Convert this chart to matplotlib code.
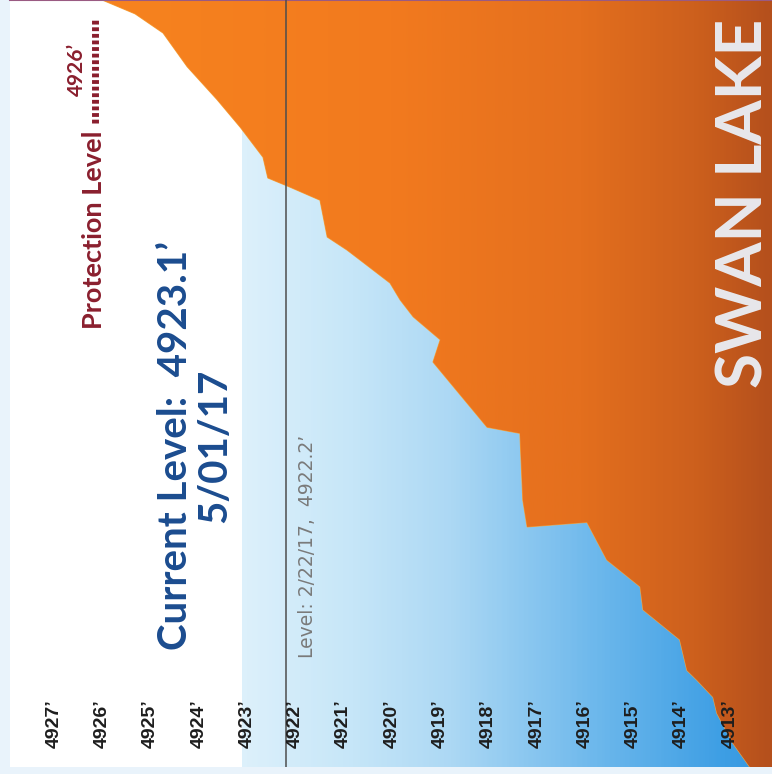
import numpy as np
import matplotlib
matplotlib.use('Agg')
import matplotlib.pyplot as plt
from matplotlib.colors import LinearSegmentedColormap
from matplotlib.patches import PathPatch

# scan is turned 90 deg, so level runs along x (high -> low) and time runs bottom -> top
time_pos = [100, 98.2, 95.7, 91.3, 87.0, 83.4, 79.5, 76.8, 75.6, 73.9, 69.1,
            67.4, 66.1, 63.1, 60.9, 58.7, 55.7, 52.8, 44.3, 43.5, 34.8, 31.3,
            31.9, 27.0, 23.5, 20.5, 16.6, 12.6, 11.3, 9.1, 7.0, 3.1, 0]
curve_level = [4926.0, 4925.32, 4924.74, 4924.24, 4923.62, 4923.14, 4922.67,
               4922.57, 4922.11, 4921.49, 4921.34, 4920.93, 4920.66, 4920.04,
               4919.83, 4919.56, 4919.00, 4919.15, 4918.03, 4917.35, 4917.29,
               4917.20, 4915.96, 4915.55, 4914.86, 4914.80, 4914.04, 4913.89,
               4913.68, 4913.35, 4913.27, 4912.94, 4912.59]

tick_levels = list(range(4913, 4928))
tick_labels = [f"{v}’" for v in tick_levels]

current_level = 4923.1
current_date = "5/01/17"
ref_level = 4922.2
ref_date = "2/22/17"
protection_level = 4926

x_hi, x_lo = 4927.91, 4912.13

fig = plt.figure(figsize=(7.72, 7.74), dpi=100)
fig.patch.set_facecolor('#e9f3fb')
ax = fig.add_axes([10 / 772, 7 / 774, 762 / 772, 767 / 774])
ax.set_facecolor('white')
ax.set_xlim(x_hi, x_lo)
ax.set_ylim(0, 100)
ax.set_xticks([])
ax.set_yticks([])
for s in ['left', 'right', 'bottom']:
    ax.spines[s].set_visible(False)
ax.spines['top'].set_color('#9a5a82')
ax.spines['top'].set_linewidth(1.5)

grad = np.linspace(0, 1, 400).reshape(1, -1)

# water (blue) up to current level
blue_cmap = LinearSegmentedColormap.from_list('water', [
    (0.0, '#e4f3fc'), (0.31, '#dcf0fb'), (0.45, '#c6e6f8'), (0.58, '#acd8f4'),
    (0.77, '#6db8ec'), (0.94, '#3d9ee4'), (1.0, '#3597e0')])
water = ax.fill_betweenx([0, 100], current_level, x_lo, facecolor='none', edgecolor='none')
water_patch = PathPatch(water.get_paths()[0], transform=ax.transData,
                        facecolor='none', edgecolor='none')
ax.add_patch(water_patch)
im_b = ax.imshow(grad, extent=(x_hi, x_lo, 0, 100), aspect='auto',
                 cmap=blue_cmap, zorder=1)
im_b.set_clip_path(water_patch)

# orange area beyond the curve
orange_cmap = LinearSegmentedColormap.from_list('curve', [
    (0.0, '#f8861f'), (0.5, '#f27a1e'), (0.75, '#e46f1e'), (0.9, '#cd601d'),
    (1.0, '#b5501c')])
area = ax.fill_betweenx(time_pos, curve_level, x_lo, facecolor='none', edgecolor='none')
area_patch = PathPatch(area.get_paths()[0], transform=ax.transData,
                       facecolor='none', edgecolor='#f4a640', lw=0.8, zorder=2)
ax.add_patch(area_patch)
im_o = ax.imshow(grad, extent=(x_hi, x_lo, 0, 100), aspect='auto',
                 cmap=orange_cmap, zorder=2)
im_o.set_clip_path(area_patch)

# reference line
ax.axvline(ref_level, color='#4d4d4d', lw=1.1, zorder=4)
ax.text(0.391, 0.287, f"Level: {ref_date},  {ref_level}’", transform=ax.transAxes,
        rotation=90, ha='center', va='center', fontsize=13.5, color='#7a7a7a',
        family=['Liberation Sans Narrow', 'DejaVu Sans'], zorder=5)

# level labels
for lv, lab in zip(tick_levels, tick_labels):
    ax.text(lv, 5.6, lab, rotation=90, ha='center', va='center', fontsize=14,
            color='#1e1e1e', family='Liberation Sans', fontweight='bold', zorder=5)

ax.text(0.243, 0.419, f"Current Level:  {current_level}’\n{current_date}",
        transform=ax.transAxes, rotation=90, ha='center', va='center',
        multialignment='center', fontsize=29, fontweight='bold', color='#1b4c8f',
        family='Lato', linespacing=1.05, zorder=5)

ax.text(0.110, 0.70, "Protection Level", transform=ax.transAxes, rotation=90,
        ha='center', va='center', fontsize=19.5, fontweight='bold', color='#8a1f2e',
        family='Lato', zorder=5)
ax.plot([0.1115, 0.1115], [0.840, 0.974], transform=ax.transAxes, color='#8a1f2e',
        lw=5, linestyle=(0, (0.55, 0.4)), solid_capstyle='butt', zorder=5)
ax.text(0.088, 0.909, f"{protection_level}’", transform=ax.transAxes, rotation=90,
        ha='center', va='center', fontsize=15, fontweight='bold', color='#8a1f2e',
        family='Lato', zorder=5)

ax.text(0.963, 0.735, "SWAN LAKE", transform=ax.transAxes, rotation=90,
        ha='center', va='center', fontsize=46, fontweight='bold', color='#e8e8ec',
        family='Lato', zorder=5)

fig.savefig('out.png', dpi=100)
